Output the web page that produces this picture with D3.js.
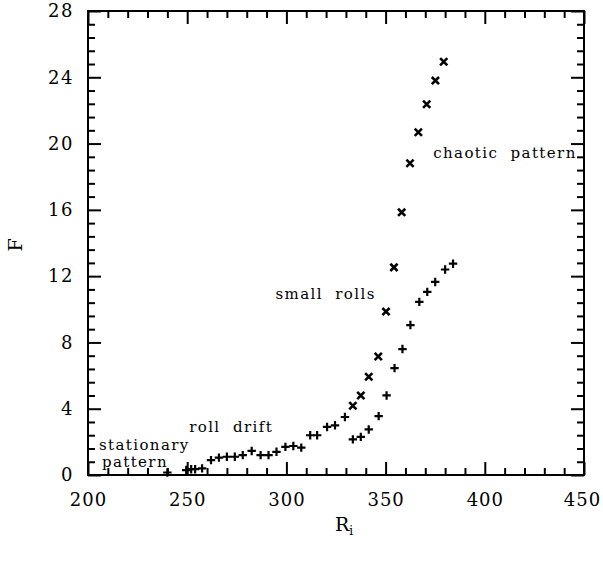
<!DOCTYPE html>
<html><head><meta charset="utf-8">
<script src="https://cdn.jsdelivr.net/npm/d3@7"></script>
<style>
html,body{margin:0;padding:0;background:#fff;}
svg text{font-family:"DejaVu Serif",serif;fill:#000;}
</style></head>
<body><svg id="chart" width="603" height="563"></svg>
<script>
// Data: "+" markers (roll drift / lower branch) and "x" markers (small rolls / chaotic)
const plusR = [240, 249.5, 252, 254, 257.5, 262, 266, 270, 274, 278, 282.5, 287, 291, 295, 299.5, 303.5, 307.5, 312, 315.5, 320.5, 324.5, 329.5, 333.5, 337.5, 341.5, 346.5, 350.5, 354.5, 358.5, 362.5, 367, 371, 375, 380, 384];
const plusF = [0.15, 0.3, 0.35, 0.35, 0.4, 0.9, 1.05, 1.1, 1.1, 1.2, 1.45, 1.2, 1.2, 1.4, 1.7, 1.75, 1.65, 2.4, 2.4, 2.9, 3.0, 3.5, 2.15, 2.3, 2.75, 3.55, 4.8, 6.45, 7.6, 9.05, 10.45, 11.05, 11.65, 12.4, 12.75];
const crossR = [333.5, 337.5, 341.5, 346.3, 350.2, 354.2, 358.1, 362.3, 366.5, 370.7, 375.1, 379.3];
const crossF = [4.18, 4.8, 5.93, 7.15, 9.86, 12.53, 15.85, 18.81, 20.68, 22.37, 23.8, 24.94];
const xMajor = [200, 250, 300, 350, 400, 450];
const xMinor = d3.range(210, 450, 10).filter(v => v % 50 !== 0);
const yMajor = [0, 4, 8, 12, 16, 20, 24, 28];
const yMinor = d3.range(1, 35).map(i => +(i * 0.8).toFixed(1)).filter(v => v < 28 && Math.abs(v / 4 - Math.round(v / 4)) > 1e-6);
const annotations = [
  {text: "stationary", r: 205.5, f: 1.5},
  {text: "pattern", r: 207, f: 0.5},
  {text: "roll  drift", r: 251, f: 2.6},
  {text: "small  rolls", r: 294.5, f: 10.6},
  {text: "chaotic  pattern", r: 374, f: 19.15}
];

const svg = d3.select("#chart");
const L = 88, R = 584, T = 11, B = 475;
const x = d3.scaleLinear().domain([200, 450]).range([L, R]);
const y = d3.scaleLinear().domain([0, 28]).range([B, T]);

function axes(sel, axisFn, scale, vals, size, labels, pad) {
  const a = axisFn(scale).tickValues(vals).tickSizeInner(size).tickSizeOuter(0).tickPadding(pad);
  a.tickFormat(labels ? d3.format("d") : () => "");
  sel.call(a);
  sel.select(".domain").remove();
  sel.selectAll(".tick line").attr("stroke", "#000").attr("stroke-width", 2);
  return sel;
}
// bottom
const gb = axes(svg.append("g").attr("transform", `translate(0,${B})`), d3.axisBottom, x, xMajor, -13, true, 18);
gb.selectAll("text").attr("font-size", 18).attr("letter-spacing", "1px").attr("dx", d => d === 450 ? "-2px" : "0px").attr("font-family", "DejaVu Serif");
axes(svg.append("g").attr("transform", `translate(0,${B})`), d3.axisBottom, x, xMinor, -7, false, 0);
// top
axes(svg.append("g").attr("transform", `translate(0,${T})`), d3.axisTop, x, xMajor, -13, false, 0);
axes(svg.append("g").attr("transform", `translate(0,${T})`), d3.axisTop, x, xMinor, -7, false, 0);
// left
const gl = axes(svg.append("g").attr("transform", `translate(${L},0)`), d3.axisLeft, y, yMajor, -13, true, 14);
gl.selectAll("text").attr("font-size", 18).attr("letter-spacing", "1.5px").attr("font-family", "DejaVu Serif");
axes(svg.append("g").attr("transform", `translate(${L},0)`), d3.axisLeft, y, yMinor, -7, false, 0);
// right
axes(svg.append("g").attr("transform", `translate(${R},0)`), d3.axisRight, y, yMajor, -13, false, 0);
axes(svg.append("g").attr("transform", `translate(${R},0)`), d3.axisRight, y, yMinor, -7, false, 0);

// frame
svg.append("rect").attr("x", L).attr("y", T).attr("width", R - L).attr("height", B - T)
  .attr("fill", "none").attr("stroke", "#000").attr("stroke-width", 2);

// axis titles
svg.append("text").attr("transform", "translate(22,245) rotate(-90)")
  .attr("text-anchor", "middle").attr("font-size", 19).text("F");
const rt = svg.append("text").attr("x", 335).attr("y", 531).attr("font-size", 19);
rt.append("tspan").text("R");
rt.append("tspan").attr("font-size", 12).attr("dy", 4).text("i");

// markers
const plusData = plusR.map((r, i) => ({r, f: plusF[i]}));
const crossData = crossR.map((r, i) => ({r, f: crossF[i]}));
const s = 4.2;
svg.append("g").selectAll("path").data(plusData).join("path")
  .attr("d", d => `M${x(d.r) - s},${y(d.f)}H${x(d.r) + s}M${x(d.r)},${y(d.f) - s}V${y(d.f) + s}`)
  .attr("stroke", "#000").attr("stroke-width", 2.2).attr("fill", "none");
const c = 3.6;
svg.append("g").selectAll("path").data(crossData).join("path")
  .attr("d", d => `M${x(d.r) - c},${y(d.f) - c}L${x(d.r) + c},${y(d.f) + c}M${x(d.r) - c},${y(d.f) + c}L${x(d.r) + c},${y(d.f) - c}`)
  .attr("stroke", "#000").attr("stroke-width", 2.6).attr("fill", "none");

// annotations
svg.append("g").selectAll("text").data(annotations).join("text")
  .attr("x", d => x(d.r)).attr("y", d => y(d.f))
  .attr("font-size", 15).attr("letter-spacing", "1.4px")
  .style("white-space", "pre").attr("xml:space", "preserve")
  .text(d => d.text);
</script></body></html>
